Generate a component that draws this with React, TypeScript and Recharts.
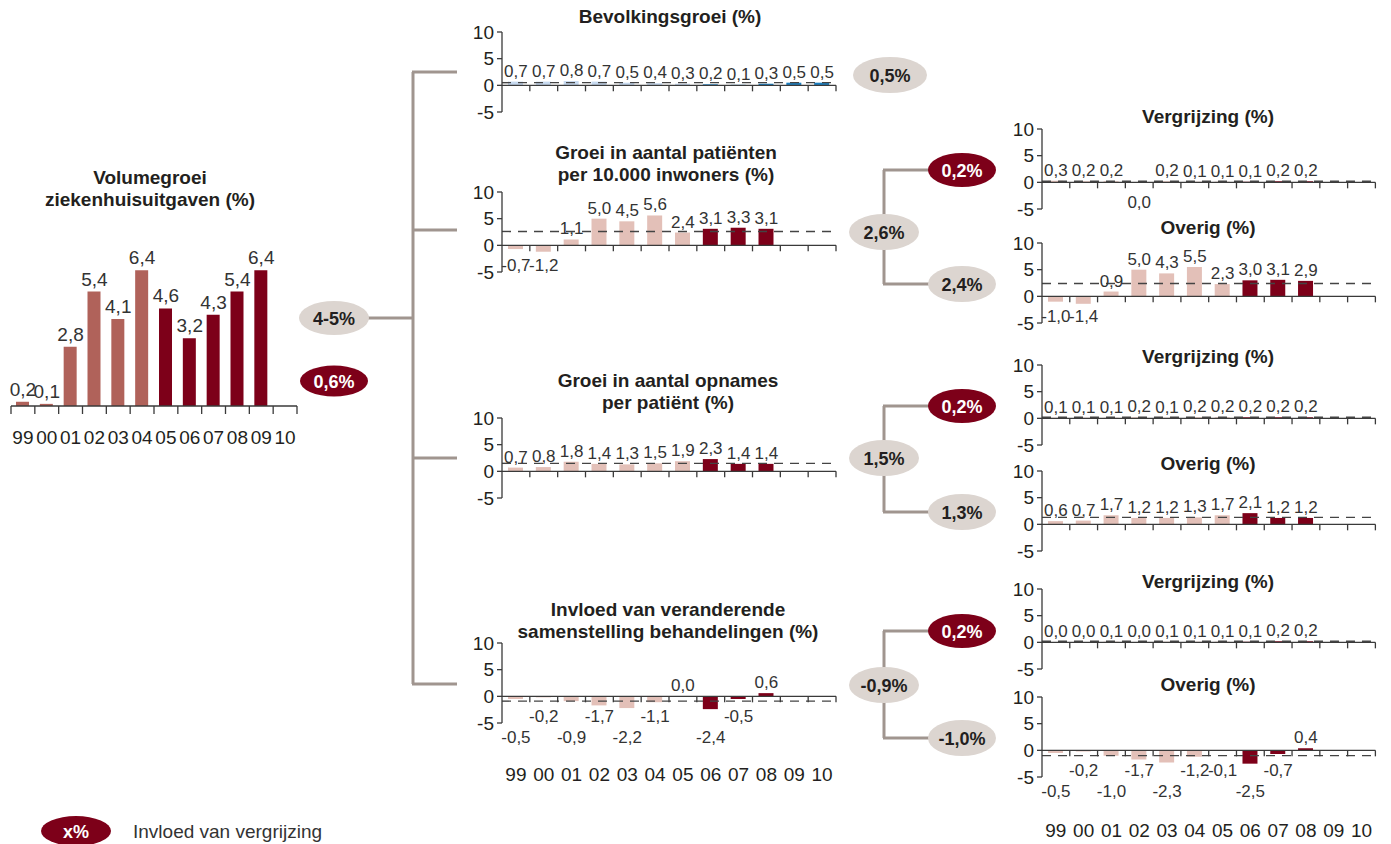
import React from "react";
import { ComposedChart, BarChart, Bar, Line, XAxis, YAxis, ReferenceLine, Cell, LabelList } from "recharts";

// categories and values (percent growth per year)
const years = ["99", "00", "01", "02", "03", "04", "05", "06", "07", "08", "09", "10"];

const volumeGrowth = [0.2, 0.1, 2.8, 5.4, 4.1, 6.4, 4.6, 3.2, 4.3, 5.4, 6.4];
const populationGrowth = [0.7, 0.7, 0.8, 0.7, 0.5, 0.4, 0.3, 0.2, 0.1, 0.3, 0.5, 0.5];
const patientsGrowth = [-0.7, -1.2, 1.1, 5.0, 4.5, 5.6, 2.4, 3.1, 3.3, 3.1];
const admissionsGrowth = [0.7, 0.8, 1.8, 1.4, 1.3, 1.5, 1.9, 2.3, 1.4, 1.4];
const treatmentMix = [-0.5, -0.2, -0.9, -1.7, -2.2, -1.1, 0.0, -2.4, -0.5, 0.6];
const patientsAgeing = [0.3, 0.2, 0.2, -0.04, 0.2, 0.1, 0.1, 0.1, 0.2, 0.2];
const patientsOther = [-1.0, -1.4, 0.9, 5.0, 4.3, 5.5, 2.3, 3.0, 3.1, 2.9];
const admissionsAgeing = [0.1, 0.1, 0.1, 0.2, 0.1, 0.2, 0.2, 0.2, 0.2, 0.2];
const admissionsOther = [0.6, 0.7, 1.7, 1.2, 1.2, 1.3, 1.7, 2.1, 1.2, 1.2];
const mixAgeing = [0.0, 0.0, 0.1, 0.0, 0.1, 0.1, 0.1, 0.1, 0.2, 0.2];
const mixOther = [-0.5, -0.2, -1.0, -1.7, -2.3, -1.2, -0.1, -2.5, -0.7, 0.4];

// averages (dashed lines) and the bubble labels
const populationAvg = 0.5;
const branchAvgs = [2.6, 1.5, -0.9];
const ageingAvgs = [0.2, 0.2, 0.2];
const otherAvgs = [2.4, 1.3, -1.0];
const totalLabel = "4-5%";
const totalAgeingLabel = "0,6%";
const populationLabel = "0,5%";
const branchLabels = ["2,6%", "1,5%", "-0,9%"];
const ageingLabels = ["0,2%", "0,2%", "0,2%"];
const otherLabels = ["2,4%", "1,3%", "-1,0%"];

const FONT = '"Liberation Sans", Arial, Helvetica, sans-serif';
const INK = "#231f20";
const AXIS = "#3a3a3a";
const LINK = "#a0958f";
const PALE = "#dcd5d0";
const WINE = "#7d0019";
const PINK = "#e3c0b8";
const BROWN = "#b0625a";
const SKY = "#c6d9ef";
const BLUE = "#1b7fc2";

const ML = 60;
const MT = 12;
const MR = 12;
const MB = 72;
const PLOT_H = 80;

const fmt = (v: number) => (Math.abs(v) < 0.05 ? "0,0" : v.toFixed(1).replace(".", ","));

// where each value label goes: above the bar, or one of two rows under the zero line
function labelRows(vals: number[], stagger: boolean) {
  let n = 0;
  return vals.map((v) => {
    if (v >= 0) return "above";
    if (!stagger || v > -0.15) return "high";
    return n++ % 2 === 0 ? "low" : "high";
  });
}

// rows for the chart: the value, plus a tag "row|text" read by the label renderer
function toRows(vals: number[], stagger = false) {
  const rows = labelRows(vals, stagger);
  return years.map((year, i) => ({
    year,
    value: i < vals.length ? vals[i] : null,
    tag: i < vals.length ? `${rows[i]}|${fmt(vals[i])}` : null,
  }));
}

function num(v: unknown) {
  return Number(v ?? 0);
}

interface SmallChartProps {
  values: number[];
  x0: number;
  top: number;
  width: number;
  avg: number;
  light: string;
  dark: string;
  darkFrom: number;
  stagger?: boolean;
  yearsOffset?: number;
}

function SmallChart({ values, x0, top, width, avg, light, dark, darkFrom, stagger = false, yearsOffset }: SmallChartProps) {
  const bw = width / years.length;
  const zeroY = MT + (PLOT_H * 10) / 15;
  const data = toRows(values, stagger);

  const tick = (p: any) => {
    const x = num(p.x);
    return (
      <g>
        <line x1={x + bw / 2} x2={x + bw / 2} y1={zeroY} y2={zeroY + 6} stroke={AXIS} strokeWidth={1.3} />
        {yearsOffset != null && (
          <text x={x} y={zeroY + yearsOffset} textAnchor="middle" dominantBaseline="central" fontSize={19} fill={INK}>
            {p.payload?.value}
          </text>
        )}
      </g>
    );
  };

  // labels ride on an invisible line through the bar ends
  const label = (p: any) => {
    const tag = p.value;
    if (typeof tag !== "string") return null;
    const [row, text] = tag.split("|");
    const vb = p.viewBox ?? {};
    const x = num(vb.x ?? p.x);
    const y = vb.y ?? p.y;
    if (y == null || Number.isNaN(Number(y))) return null;
    const baseline = row === "above" ? Number(y) - 5 : zeroY + (row === "high" ? 26 : 47);
    return (
      <text x={x} y={baseline} textAnchor="middle" fontSize={17} fill="#333">
        {text}
      </text>
    );
  };

  return (
    <div style={{ position: "absolute", left: x0 - ML, top: top - MT }}>
      <ComposedChart
        width={ML + width + MR}
        height={MT + PLOT_H + MB}
        data={data}
        margin={{ top: MT, right: MR, left: 0, bottom: 0 }}
        barSize={15}
      >
        <XAxis dataKey="year" axisLine={false} tickLine={false} tick={tick} interval={0} height={MB} />
        <YAxis
          type="number"
          domain={[-5, 10]}
          ticks={[-5, 0, 5, 10]}
          interval={0}
          width={ML}
          allowDataOverflow
          tickSize={5}
          tickMargin={3}
          tick={{ fontSize: 19, fill: INK }}
          axisLine={{ stroke: AXIS, strokeWidth: 1.3 }}
          tickLine={{ stroke: AXIS, strokeWidth: 1.3 }}
        />
        <Bar dataKey="value" isAnimationActive={false}>
          {data.map((d, i) => (
            <Cell key={d.year} fill={i >= darkFrom ? dark : light} />
          ))}
        </Bar>
        <ReferenceLine y={0} stroke={AXIS} strokeWidth={1.3} />
        <ReferenceLine y={avg} stroke="#444" strokeDasharray="9 7" strokeWidth={1.4} />
        <Line dataKey="value" stroke="none" dot={false} activeDot={false} legendType="none" isAnimationActive={false}>
          <LabelList dataKey="tag" content={label} />
        </Line>
      </ComposedChart>
    </div>
  );
}

function MainChart() {
  const x0 = 11;
  const width = 286;
  const mt = 44;
  const plotH = 212;
  const bw = width / years.length;
  const axisY = mt + plotH;
  const data = toRows(volumeGrowth);

  const tick = (p: any) => {
    const x = num(p.x);
    return (
      <g>
        {p.index === 0 && <line x1={x - bw / 2} x2={x - bw / 2} y1={axisY} y2={axisY + 8} stroke={AXIS} strokeWidth={1.3} />}
        <line x1={x + bw / 2} x2={x + bw / 2} y1={axisY} y2={axisY + 8} stroke={AXIS} strokeWidth={1.3} />
        <text x={x} y={axisY + 31} textAnchor="middle" dominantBaseline="central" fontSize={19} fill={INK}>
          {p.payload?.value}
        </text>
      </g>
    );
  };

  const label = (p: any) => {
    const tag = p.value;
    if (typeof tag !== "string") return null;
    const text = tag.split("|")[1];
    const vb = p.viewBox ?? {};
    const x = num(vb.x ?? p.x);
    const y = vb.y ?? p.y;
    if (y == null || Number.isNaN(Number(y))) return null;
    return (
      <text x={x} y={Number(y) - 6} textAnchor="middle" fontSize={19} fill="#333">
        {text}
      </text>
    );
  };

  return (
    <div style={{ position: "absolute", left: 0, top: 150 }}>
      <ComposedChart width={x0 + width + 10} height={mt + plotH + 50} data={data} margin={{ top: mt, right: 10, left: x0, bottom: 0 }} barSize={13}>
        <XAxis dataKey="year" axisLine={{ stroke: AXIS, strokeWidth: 1.3 }} tickLine={false} tick={tick} interval={0} height={50} />
        <YAxis hide type="number" domain={[0, 10]} />
        <Bar dataKey="value" isAnimationActive={false}>
          {data.map((d, i) => (
            <Cell key={d.year} fill={i >= 6 ? WINE : BROWN} />
          ))}
        </Bar>
        <Line dataKey="value" stroke="none" dot={false} activeDot={false} legendType="none" isAnimationActive={false}>
          <LabelList dataKey="tag" content={label} />
        </Line>
      </ComposedChart>
    </div>
  );
}

function Title({ cx, y, lines }: { cx: number; y: number; lines: string[] }) {
  return (
    <div
      style={{
        position: "absolute",
        left: cx - 200,
        top: y - 11,
        width: 400,
        textAlign: "center",
        fontWeight: "bold",
        fontSize: 19,
        lineHeight: "22px",
        color: INK,
        whiteSpace: "nowrap",
      }}
    >
      {lines.map((l) => (
        <div key={l}>{l}</div>
      ))}
    </div>
  );
}

function Pill({ cx, cy, text, dark, rx = 35, ry = 18 }: { cx: number; cy: number; text: string; dark?: boolean; rx?: number; ry?: number }) {
  return (
    <g>
      <ellipse cx={cx} cy={cy} rx={rx} ry={ry} fill={dark ? WINE : PALE} />
      <text x={cx} y={cy + 1} textAnchor="middle" dominantBaseline="central" fontSize={18} fontWeight="bold" fill={dark ? "#fff" : INK}>
        {text}
      </text>
    </g>
  );
}

const MID_X = 501.5;
const MID_W = 334;
const RIGHT_X = 1042.3;
const RIGHT_W = 333.4;

export default function App() {
  const groupY = [
    { mid: 232, up: 170, down: 284 },
    { mid: 458, up: 406, down: 512 },
    { mid: 685, up: 631, down: 738 },
  ];
  return (
    <div
      style={{
        position: "absolute",
        left: 0,
        top: 0,
        width: 1391,
        height: 844,
        background: "#fff",
        fontFamily: FONT,
        overflow: "hidden",
      }}
    >
      <Title cx={150} y={178} lines={["Volumegroei", "ziekenhuisuitgaven (%)"]} />
      <MainChart />

      <Title cx={670} y={17} lines={["Bevolkingsgroei (%)"]} />
      <SmallChart values={populationGrowth} x0={MID_X} top={32} width={MID_W} avg={populationAvg} light={SKY} dark={BLUE} darkFrom={7} />

      <Title cx={666} y={153} lines={["Groei in aantal patiënten", "per 10.000 inwoners (%)"]} />
      <SmallChart values={patientsGrowth} x0={MID_X} top={191.5} width={MID_W} avg={branchAvgs[0]} light={PINK} dark={WINE} darkFrom={7} />

      <Title cx={668} y={381} lines={["Groei in aantal opnames", "per patiënt (%)"]} />
      <SmallChart values={admissionsGrowth} x0={MID_X} top={418.3} width={MID_W} avg={branchAvgs[1]} light={PINK} dark={WINE} darkFrom={7} />

      <Title cx={668} y={610} lines={["Invloed van veranderende", "samenstelling behandelingen (%)"]} />
      <SmallChart values={treatmentMix} x0={MID_X} top={643.3} width={MID_W} avg={branchAvgs[2]} light={PINK} dark={WINE} darkFrom={7} stagger yearsOffset={78} />

      <Title cx={1208} y={117} lines={["Vergrijzing (%)"]} />
      <SmallChart values={patientsAgeing} x0={RIGHT_X} top={129.3} width={RIGHT_W} avg={ageingAvgs[0]} light={PINK} dark={WINE} darkFrom={7} />
      <Title cx={1208} y={228} lines={["Overig (%)"]} />
      <SmallChart values={patientsOther} x0={RIGHT_X} top={243.3} width={RIGHT_W} avg={otherAvgs[0]} light={PINK} dark={WINE} darkFrom={7} />

      <Title cx={1208} y={357} lines={["Vergrijzing (%)"]} />
      <SmallChart values={admissionsAgeing} x0={RIGHT_X} top={365} width={RIGHT_W} avg={ageingAvgs[1]} light={PINK} dark={WINE} darkFrom={7} />
      <Title cx={1208} y={464} lines={["Overig (%)"]} />
      <SmallChart values={admissionsOther} x0={RIGHT_X} top={470.7} width={RIGHT_W} avg={otherAvgs[1]} light={PINK} dark={WINE} darkFrom={7} />

      <Title cx={1208} y={582} lines={["Vergrijzing (%)"]} />
      <SmallChart values={mixAgeing} x0={RIGHT_X} top={589.3} width={RIGHT_W} avg={ageingAvgs[2]} light={PINK} dark={WINE} darkFrom={7} />
      <Title cx={1208} y={685} lines={["Overig (%)"]} />
      <SmallChart values={mixOther} x0={RIGHT_X} top={696.7} width={RIGHT_W} avg={otherAvgs[2]} light={PINK} dark={WINE} darkFrom={7} stagger yearsOffset={80} />

      <svg width={1391} height={844} style={{ position: "absolute", left: 0, top: 0, pointerEvents: "none" }}>
        {/* tree from the total to the three components */}
        <line x1={368} x2={413} y1={318} y2={318} stroke={LINK} strokeWidth={3} />
        <line x1={413} x2={413} y1={72} y2={684} stroke={LINK} strokeWidth={3} />
        {[72, 230, 458, 684].map((y) => (
          <line key={y} x1={412} x2={457} y1={y} y2={y} stroke={LINK} strokeWidth={3} />
        ))}
        <Pill cx={334} cy={318} text={totalLabel} rx={35} ry={17} />
        <Pill cx={334} cy={381} text={totalAgeingLabel} dark rx={34} ry={15.5} />
        <Pill cx={890} cy={75} text={populationLabel} rx={37} ry={18} />

        {groupY.map((g, i) => (
          <g key={i}>
            <line x1={884} x2={884} y1={g.up} y2={g.down} stroke={LINK} strokeWidth={3} />
            <line x1={883} x2={935} y1={g.up} y2={g.up} stroke={LINK} strokeWidth={3} />
            <line x1={883} x2={935} y1={g.down} y2={g.down} stroke={LINK} strokeWidth={3} />
            <Pill cx={884} cy={g.mid} text={branchLabels[i]} rx={35} ry={18} />
            <Pill cx={962} cy={g.up} text={ageingLabels[i]} dark rx={34} ry={17} />
            <Pill cx={962} cy={g.down} text={otherLabels[i]} rx={34} ry={18} />
          </g>
        ))}

        {/* legend */}
        <Pill cx={76} cy={831} text="x%" dark rx={35} ry={15} />
        <text x={133} y={831} dominantBaseline="central" fontSize={19} fill="#333">
          Invloed van vergrijzing
        </text>
      </svg>
    </div>
  );
}
